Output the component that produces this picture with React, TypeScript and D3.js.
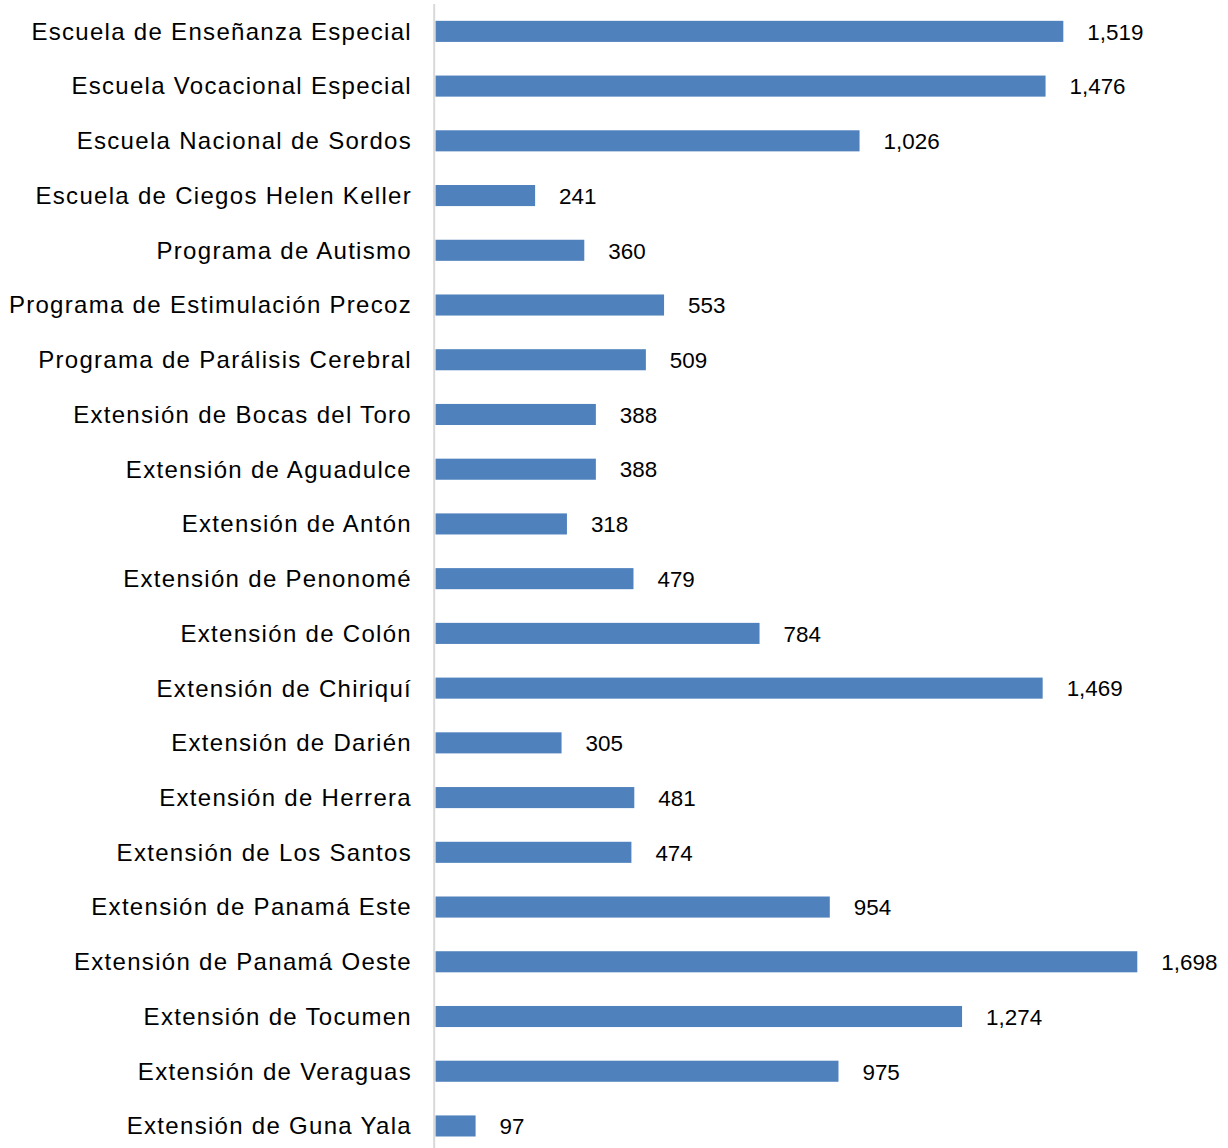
import React from "react";
import * as d3 from "d3";

const categories = [
  "Escuela de Enseñanza Especial",
  "Escuela Vocacional Especial",
  "Escuela Nacional de Sordos",
  "Escuela de Ciegos Helen Keller",
  "Programa de Autismo",
  "Programa de Estimulación Precoz",
  "Programa de Parálisis Cerebral",
  "Extensión de Bocas del Toro",
  "Extensión de Aguadulce",
  "Extensión de Antón",
  "Extensión de Penonomé",
  "Extensión de Colón",
  "Extensión de Chiriquí",
  "Extensión de Darién",
  "Extensión de Herrera",
  "Extensión de Los Santos",
  "Extensión de Panamá Este",
  "Extensión de Panamá Oeste",
  "Extensión de Tocumen",
  "Extensión de Veraguas",
  "Extensión de Guna Yala",
];

const values = [
  1519, 1476, 1026, 241, 360, 553, 509, 388, 388, 318, 479, 784, 1469, 305,
  481, 474, 954, 1698, 1274, 975, 97,
];

const W = 1228;
const H = 1148;
const axisX = 435.5;
const fontFamily = "'Liberation Sans', Arial, sans-serif";

export default function App() {
  const x = d3.scaleLinear().domain([0, 1698]).range([axisX, 1137.3]);
  const y = d3
    .scaleBand<string>()
    .domain(categories)
    .range([4, 4 + 54.73 * categories.length])
    .paddingInner(0.615)
    .paddingOuter(0.3075);
  const fmt = d3.format(",");
  return (
    <svg
      width={W}
      height={H}
      style={{ position: "absolute", left: 0, top: 0, background: "#fff" }}
    >
      {categories.map((c, i) => {
        const yy = y(c)!;
        const bw = y.bandwidth();
        const cy = yy + bw / 2;
        return (
          <g key={c}>
            <rect
              x={x(0)}
              y={yy}
              width={x(values[i]) - x(0)}
              height={bw}
              fill="#4F81BD"
            />
            <text
              x={412}
              y={cy}
              dy="0.35em"
              textAnchor="end"
              fontFamily={fontFamily}
              fontSize={24}
              letterSpacing={1.3}
              fill="#000"
            >
              {c}
            </text>
            <text
              x={x(values[i]) + 24}
              y={cy}
              dy="0.37em"
              textAnchor="start"
              fontFamily={fontFamily}
              fontSize={22.4}
              fill="#000"
            >
              {fmt(values[i])}
            </text>
          </g>
        );
      })}
      <line
        x1={434.2}
        x2={434.2}
        y1={4}
        y2={H}
        stroke="#D9D9D9"
        strokeWidth={2}
      />
    </svg>
  );
}
